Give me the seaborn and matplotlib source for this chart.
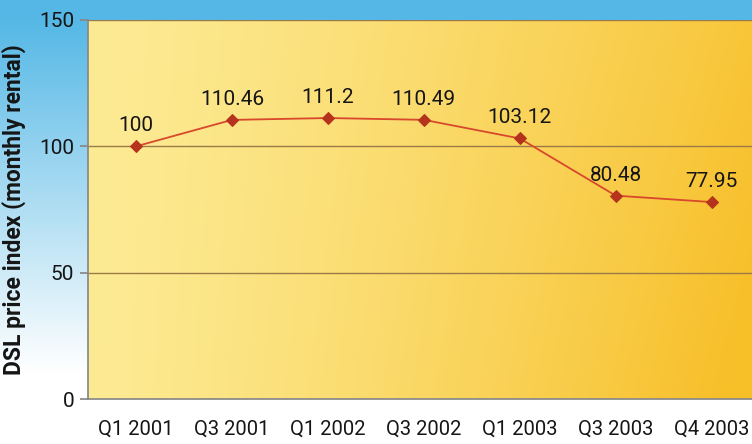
import numpy as np
import pandas as pd
import matplotlib
matplotlib.use("Agg")
import matplotlib.pyplot as plt
import seaborn as sns

quarters = ["Q1 2001", "Q3 2001", "Q1 2002", "Q3 2002", "Q1 2003", "Q3 2003", "Q4 2003"]
index_values = [100, 110.46, 111.2, 110.49, 103.12, 80.48, 77.95]
value_labels = ["100", "110.46", "111.2", "110.49", "103.12", "80.48", "77.95"]
y_ticks = [0, 50, 100, 150]

sns.set_theme(style="white")
plt.rcParams["font.family"] = ["Roboto", "DejaVu Sans"]

df = pd.DataFrame({"quarter": quarters, "value": index_values})
df["pos"] = range(len(df))

W, H = 752, 444
fig = plt.figure(figsize=(W / 100, H / 100), dpi=100)

# figure background gradient (blue top fading to white bottom)
bg = fig.add_axes([0, 0, 1, 1], zorder=-10)
yy, xx = np.mgrid[0:1:200j, 0:1:200j]
t = np.clip(1.25 * yy - 0.2, 0, 1)
top = np.array([0.33, 0.72, 0.90])
low = np.array([1.0, 1.0, 1.0])
img = low[None, None, :] * (1 - t[..., None]) + top[None, None, :] * t[..., None]
bg.imshow(img, origin="lower", extent=[0, 1, 0, 1], aspect="auto")
bg.set_axis_off()
bg.axhspan(0, 45 / H, color="white")

left = 88 / W
bottom = (H - 399) / H
top_y = (H - 20) / H
ax = fig.add_axes([left, bottom, 1.0 - left, top_y - bottom])

# plot area gradient: pale yellow left to deeper yellow-orange right
gy, gx = np.mgrid[0:1:200j, 0:1:300j]
s = np.clip(0.85 * gx ** 1.3 + 0.2 * (1 - gy) * gx, 0, 1)
c1 = np.array([0.99, 0.92, 0.58])
c2 = np.array([0.97, 0.75, 0.16])
pimg = c1[None, None, :] * (1 - s[..., None]) + c2[None, None, :] * s[..., None]
xmax = 6.42
ax.imshow(pimg, origin="lower", extent=[-0.5, xmax, 0, 150], aspect="auto", zorder=0)

for yv in [50, 100, 150]:
    ax.axhline(yv, color="#9c7a48", lw=1.0, zorder=1)

sns.lineplot(data=df, x="pos", y="value", ax=ax, color="#d8482c", lw=1.3,
             marker="D", markersize=6, markerfacecolor="#b5321c",
             markeredgecolor="#b5321c", zorder=3)

for x, v, lab in zip(df["pos"], index_values, value_labels):
    ax.annotate(lab, (x, v), xytext=(0, 8), textcoords="offset points",
                ha="center", va="bottom", fontsize=15, color="#151515", zorder=4)

ax.set_xlim(-0.5, xmax)
ax.set_ylim(0, 150)
ax.set_yticks(y_ticks)
ax.set_yticklabels([str(v) for v in y_ticks], fontsize=15, color="#151515")
ax.set_xticks(range(len(quarters)))
ax.set_xticklabels(quarters, fontsize=14.5, color="#151515")
ax.set_xticks([i + 0.5 for i in range(len(quarters) - 1)], minor=True)
ax.tick_params(axis="x", which="major", length=0, pad=15)
ax.tick_params(axis="x", which="minor", length=5, color="#888888", direction="out")
ax.tick_params(axis="y", length=6, color="#888888", direction="out", pad=4, left=True)
ax.set_xlabel("")
ax.set_ylabel("DSL price index (monthly rental)", fontsize=16.5, fontweight="bold",
              color="#151515")
ax.yaxis.set_label_coords(-62 / (W - 88), 0.5)
for sp in ["top", "right"]:
    ax.spines[sp].set_visible(False)
ax.spines["left"].set_color("#888888")
ax.spines["bottom"].set_color("#888888")
ax.patch.set_alpha(0)

fig.savefig("out.png", dpi=100)
